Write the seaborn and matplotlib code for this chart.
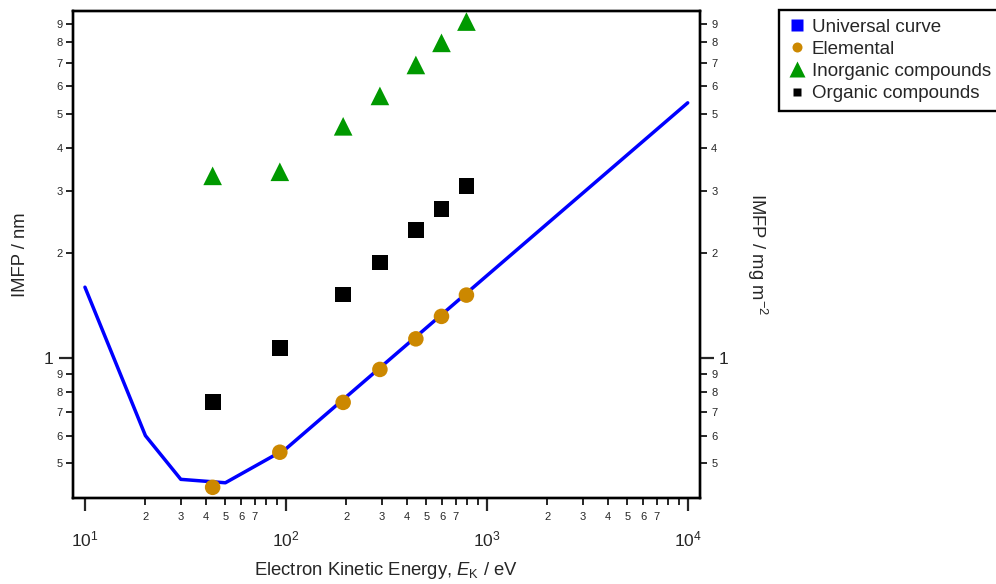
import matplotlib
matplotlib.use("Agg")
import matplotlib.pyplot as plt
from matplotlib.lines import Line2D
from matplotlib.ticker import FixedLocator, FixedFormatter
import seaborn as sns
import numpy as np

# ---- data ----
curve_energy = [10, 20, 30, 50, 100, 1000, 10000]
curve_imfp = [1.595, 0.60, 0.45, 0.44, 0.55, 1.72, 5.37]

point_energy = [43.2, 93.3, 192.8, 293.8, 443.6, 595, 792]
elemental_imfp = [0.427, 0.538, 0.747, 0.928, 1.135, 1.316, 1.514]
inorganic_imfp = [3.32, 3.41, 4.60, 5.62, 6.89, 7.97, 9.17]
organic_imfp = [0.747, 1.066, 1.52, 1.877, 2.32, 2.67, 3.10]

legend_labels = ["Universal curve", "Elemental", "Inorganic compounds", "Organic compounds"]

x_major = [10, 100, 1000, 10000]
x_major_labels = [r"$10^{1}$", r"$10^{2}$", r"$10^{3}$", r"$10^{4}$"]
x_minor_digits = [2, 3, 4, 5, 6, 7, 8, 9]
x_minor_labelled = ["2", "3", "4", "5", "6", "7", "", ""]
y_major = [1]
y_major_labels = ["1"]
y_minor = [0.5, 0.6, 0.7, 0.8, 0.9, 2, 3, 4, 5, 6, 7, 8, 9]
y_minor_labels = ["5", "6", "7", "8", "9", "2", "3", "4", "5", "6", "7", "8", "9"]

# ---- style ----
sns.set_style("ticks")
plt.rcParams["font.family"] = ["Liberation Sans", "DejaVu Sans"]
plt.rcParams["mathtext.fontset"] = "custom"
plt.rcParams["mathtext.rm"] = "Liberation Sans"
plt.rcParams["mathtext.it"] = "Liberation Sans:italic"
plt.rcParams["mathtext.bf"] = "Liberation Sans:bold"

BLUE = "#0000FF"
ORANGE = "#CC8800"
GREEN = "#009900"
BLACK = "#000000"

W, H = 996, 584
fig = plt.figure(figsize=(W / 100, H / 100), dpi=100)
L, R, T, B = 73, 700, 11, 498
ax = fig.add_axes([L / W, 1 - B / H, (R - L) / W, (B - T) / H])

sns.lineplot(x=curve_energy, y=curve_imfp, ax=ax, color=BLUE, linewidth=2.5,
             zorder=2, legend=False)
sns.scatterplot(x=point_energy, y=inorganic_imfp, ax=ax, marker="^", s=180,
                color=GREEN, edgecolor="none", zorder=3, legend=False)
sns.scatterplot(x=point_energy, y=organic_imfp, ax=ax, marker="s", s=130,
                color=BLACK, edgecolor="none", zorder=3, legend=False)
sns.scatterplot(x=point_energy, y=elemental_imfp, ax=ax, marker="o", s=125,
                color=ORANGE, edgecolor="none", zorder=4, legend=False)

ax.set_xscale("log")
ax.set_yscale("log")
ax.set_xlim(8.72, 11513)
ax.set_ylim(0.398, 9.83)

x_minor = [d * 10 ** e for e in (1, 2, 3) for d in x_minor_digits]
x_minor_lab = x_minor_labelled * 3
ax.xaxis.set_major_locator(FixedLocator(x_major))
ax.xaxis.set_major_formatter(FixedFormatter(x_major_labels))
ax.xaxis.set_minor_locator(FixedLocator(x_minor))
ax.xaxis.set_minor_formatter(FixedFormatter(x_minor_lab))

ax.yaxis.set_major_locator(FixedLocator(y_major))
ax.yaxis.set_major_formatter(FixedFormatter(y_major_labels))
ax.yaxis.set_minor_locator(FixedLocator(y_minor))
ax.yaxis.set_minor_formatter(FixedFormatter(y_minor_labels))

for s in ax.spines.values():
    s.set_linewidth(1.7)
    s.set_color("black")

ax.tick_params(axis="x", which="major", length=9.5, width=1.6, pad=13, labelsize=12.5, direction="out")
ax.tick_params(axis="x", which="minor", length=4.8, width=1.4, pad=5, labelsize=8, direction="out")
ax.tick_params(axis="y", which="major", length=10, width=1.6, pad=4.3, labelsize=12.5, direction="out")
ax.tick_params(axis="y", which="minor", length=5, width=1.4, pad=2.4, labelsize=8, direction="out")
ax.tick_params(top=False, right=False, which="both")

ax2 = ax.twinx()
ax2.set_yscale("log")
ax2.set_ylim(ax.get_ylim())
ax2.yaxis.set_major_locator(FixedLocator(y_major))
ax2.yaxis.set_major_formatter(FixedFormatter(y_major_labels))
ax2.yaxis.set_minor_locator(FixedLocator(y_minor))
ax2.yaxis.set_minor_formatter(FixedFormatter(y_minor_labels))
ax2.tick_params(axis="y", which="major", length=10, width=1.6, pad=3.2, labelsize=12.5, direction="out")
ax2.tick_params(axis="y", which="minor", length=5, width=1.4, pad=3.0, labelsize=8, direction="out")
for s in ax2.spines.values():
    s.set_linewidth(1.7)
    s.set_color("black")

ax.set_xlabel(r"Electron Kinetic Energy, $\mathit{E}_{\mathrm{K}}$ / eV", fontsize=13.3, va="baseline")
ax.xaxis.set_label_coords(0.5, (B - 575) / (B - T))
ax.set_ylabel("IMFP / nm", fontsize=13.3, va="baseline")
ax.yaxis.set_label_coords((25 - L) / (R - L), 0.5)
ax2.set_ylabel(r"IMFP / mg m$^{-2}$", fontsize=13.3, rotation=270, va="baseline", ha="center")
ax2.yaxis.set_label_coords((751 - L) / (R - L), 0.5)

handles = [
    Line2D([], [], linestyle="none", marker="s", markersize=8.6, color=BLUE, markeredgecolor="none"),
    Line2D([], [], linestyle="none", marker="o", markersize=7.2, color=ORANGE, markeredgecolor="none"),
    Line2D([], [], linestyle="none", marker="^", markersize=11.5, color=GREEN, markeredgecolor="none"),
    Line2D([], [], linestyle="none", marker="s", markersize=6.2, color=BLACK, markeredgecolor="none"),
]
leg = fig.legend(handles, legend_labels, loc="upper left",
                 bbox_to_anchor=(779 / W, 1 - 10 / H), bbox_transform=fig.transFigure,
                 borderaxespad=0, fontsize=13.5, frameon=True, fancybox=False,
                 handlelength=1.0, handletextpad=0.3, labelspacing=0.27,
                 borderpad=0.45, edgecolor="black", framealpha=1)
leg.get_frame().set_linewidth(1.7)

fig.savefig("out.png", dpi=100)
